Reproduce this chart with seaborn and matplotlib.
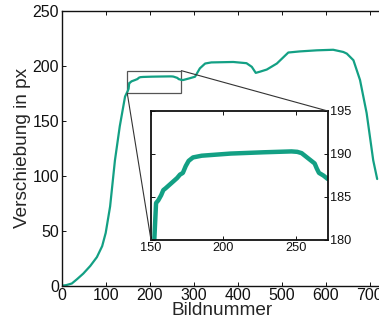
import numpy as np
import pandas as pd
import matplotlib
matplotlib.use("Agg")
import matplotlib.pyplot as plt
from matplotlib.patches import Rectangle, ConnectionPatch
import seaborn as sns

# frame number vs. displacement (px)
frames = [0, 10, 23, 35, 49, 65, 80, 92, 100, 110, 121, 132, 144,
          150, 152, 153.5, 155, 157, 158.5, 160, 162, 164, 166, 168, 170,
          172, 174, 176, 179, 185, 193, 205, 228, 247, 251, 254, 257, 260,
          263, 264.5, 266, 269, 272,
          276, 290, 303, 314, 326, 340, 390, 420, 432, 441, 450, 466, 489,
          515, 541, 580, 617, 640, 648, 663, 678, 693, 708, 717]
shift = [0, 0.5, 2, 6, 11, 18, 26, 36, 48, 72, 114, 145, 172,
         177, 179, 184.3, 184.6, 185.2, 185.8, 186.0, 186.3, 186.6, 186.9,
         187.2, 187.6, 187.8, 188.6, 189.2, 189.6, 189.8, 189.9, 190.05,
         190.2, 190.3, 190.25, 190.1, 189.7, 189.3, 188.9, 188.3, 187.8,
         187.5, 187.1,
         187, 188.5, 190, 197.6, 202, 203, 203.4, 202.3, 199, 193.5, 194.5,
         196.5, 202, 212, 213, 214, 214.5, 212.5, 211, 205, 187, 157, 114, 97]

main_xticks = [0, 100, 200, 300, 400, 500, 600, 700]
main_yticks = [0, 50, 100, 150, 200, 250]
inset_xticks = [150, 200, 250]
inset_yticks = [180, 185, 190, 195]

df = pd.DataFrame({"Bildnummer": frames, "Verschiebung": shift})
teal = "#13a084"

sns.set_style("ticks")
plt.rcParams["font.family"] = ["Liberation Sans", "DejaVu Sans"]
plt.rcParams["xtick.direction"] = "in"
plt.rcParams["ytick.direction"] = "in"

fig = plt.figure(figsize=(3.79, 3.22), dpi=100)

# main axes (right edge runs slightly past the figure, as in the original)
ax = fig.add_axes([0.1628, 0.1127, 0.8475, 0.854])
sns.lineplot(data=df, x="Bildnummer", y="Verschiebung", ax=ax,
             color=teal, linewidth=1.6)
ax.set_xlim(0, 730)
ax.set_ylim(0, 250)
ax.set_xticks(main_xticks)
ax.set_yticks(main_yticks)
ax.tick_params(labelsize=11.5, pad=2, length=3, width=0.7,
               top=True, right=True, colors="#111111")
for s in ax.spines.values():
    s.set_linewidth(1.0)
    s.set_color("#111111")
ax.set_xlabel("Bildnummer", fontsize=13.7, labelpad=-1)
ax.set_ylabel("Verschiebung in px", fontsize=13.7, labelpad=1)

# zoom rectangle
ax.add_patch(Rectangle((149, 175), 123, 20.5, fill=False,
                       edgecolor="#555555", linewidth=0.9))

# inset
axin = fig.add_axes([0.3984, 0.2547, 0.4662, 0.4006])
sns.lineplot(data=df, x="Bildnummer", y="Verschiebung", ax=axin,
             color=teal, linewidth=3.2)
axin.set_xlim(150, 272)
axin.set_ylim(180, 195)
axin.set_xticks(inset_xticks)
axin.set_yticks(inset_yticks)
axin.yaxis.tick_right()
axin.tick_params(labelsize=9.2, pad=1.5, length=3, width=0.7,
                 left=True, right=True, top=True, colors="#111111")
axin.set_xlabel("")
axin.set_ylabel("")
for s in axin.spines.values():
    s.set_linewidth(1.3)
    s.set_color("#111111")

# connector lines
for xy_main, xy_in in [((149, 175), (0, 0)), ((272, 195.5), (1, 1))]:
    con = ConnectionPatch(xyA=xy_main, coordsA=ax.transData,
                          xyB=xy_in, coordsB=axin.transAxes,
                          color="#333333", linewidth=0.8)
    fig.add_artist(con)

fig.savefig("out.png", dpi=100)
